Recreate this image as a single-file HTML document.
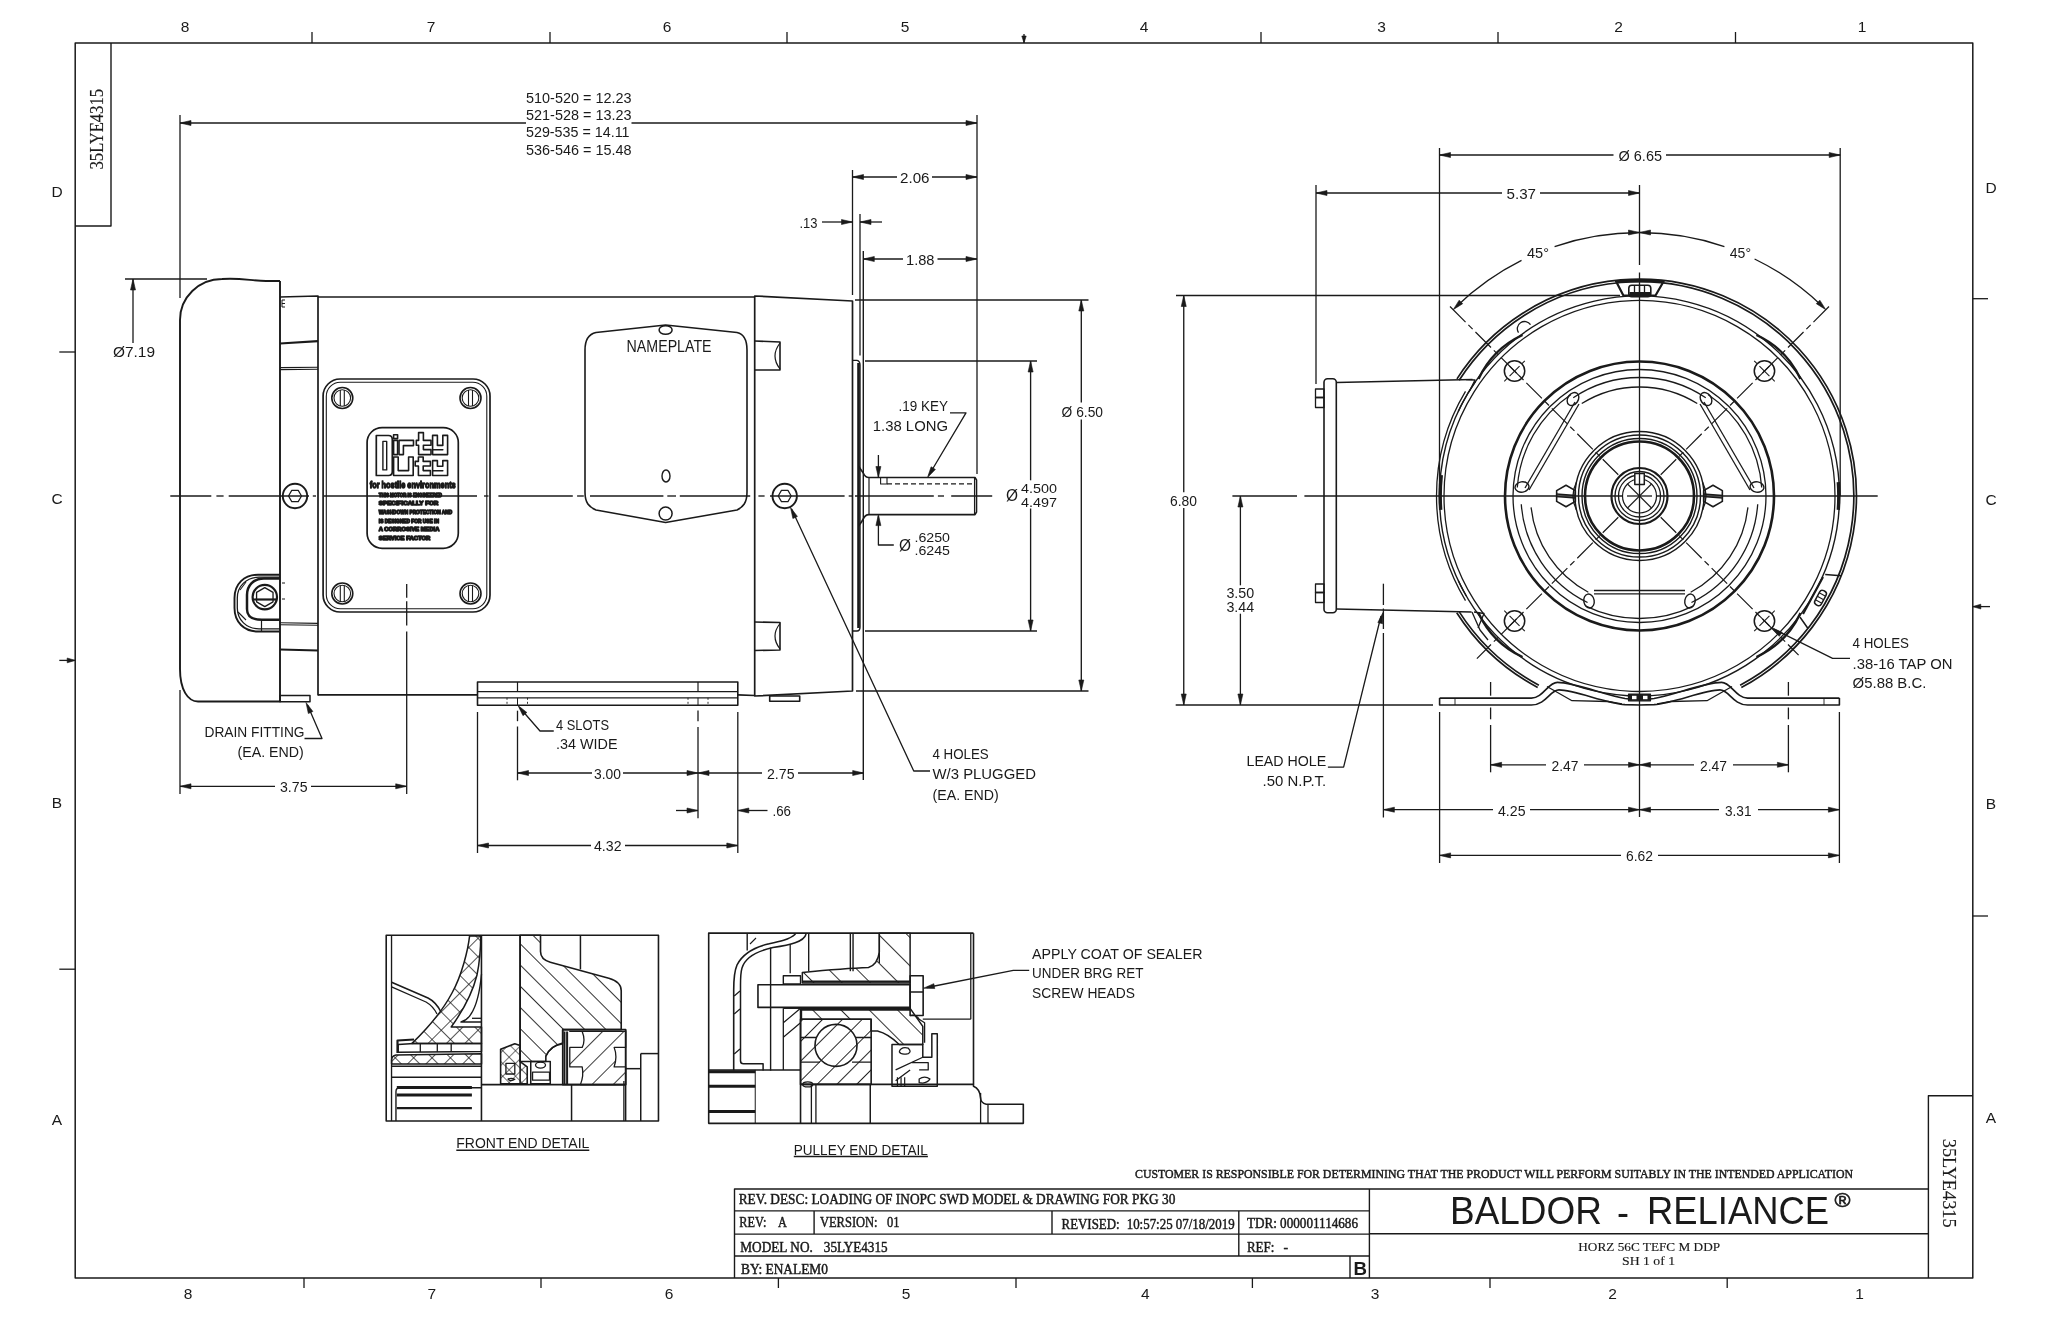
<!DOCTYPE html>
<html><head><meta charset="utf-8"><style>
html,body{margin:0;padding:0;background:#fff;width:2048px;height:1325px;overflow:hidden}
svg{display:block;filter:grayscale(1)} text{fill:#1a1a1a;stroke:none}
</style></head><body>
<svg width="2048" height="1325" viewBox="0 0 2048 1325">
<defs><pattern id="hb" patternUnits="userSpaceOnUse" width="10.5" height="10.5" patternTransform="rotate(45)"><line x1="0" y1="0" x2="0" y2="10.5" stroke="#1a1a1a" stroke-width="1.4"/></pattern><pattern id="hf" patternUnits="userSpaceOnUse" width="10.5" height="10.5" patternTransform="rotate(-45)"><line x1="0" y1="0" x2="0" y2="10.5" stroke="#1a1a1a" stroke-width="1.4"/></pattern><pattern id="hx" patternUnits="userSpaceOnUse" width="9" height="9" patternTransform="rotate(45)"><line x1="0" y1="0" x2="0" y2="9" stroke="#1a1a1a" stroke-width="1.2"/><line x1="0" y1="0" x2="9" y2="0" stroke="#1a1a1a" stroke-width="1.2"/></pattern><pattern id="bs" patternUnits="userSpaceOnUse" width="15" height="15" patternTransform="rotate(-45)"><line x1="0" y1="-1" x2="0" y2="16" stroke="#1a1a1a" stroke-width="1.8"/></pattern><pattern id="fs" patternUnits="userSpaceOnUse" width="15" height="15" patternTransform="rotate(45)"><line x1="0" y1="-1" x2="0" y2="16" stroke="#1a1a1a" stroke-width="1.7"/></pattern><pattern id="bw" patternUnits="userSpaceOnUse" width="20" height="20" patternTransform="rotate(-45)"><line x1="0" y1="-1" x2="0" y2="21" stroke="#1a1a1a" stroke-width="1.8"/></pattern><pattern id="fw" patternUnits="userSpaceOnUse" width="14" height="14" patternTransform="rotate(45)"><line x1="0" y1="-1" x2="0" y2="15" stroke="#1a1a1a" stroke-width="1.9"/></pattern><pattern id="hx2" patternUnits="userSpaceOnUse" width="13" height="13" patternTransform="rotate(45)"><line x1="0" y1="0" x2="0" y2="13" stroke="#1a1a1a" stroke-width="1.5"/><line x1="0" y1="0" x2="13" y2="0" stroke="#1a1a1a" stroke-width="1.5"/></pattern></defs>
<rect width="2048" height="1325" fill="#fff"/>
<g fill="none" stroke="#1a1a1a" stroke-linejoin="round" style="opacity:0.995">
<path d="M75.2,43 L1972.8,43 L1972.8,1278 L75.2,1278 Z" stroke-width="1.5"/>
<path d="M75.2,226 L111,226 L111,43" stroke-width="1.4"/>
<text transform="translate(103.2,129.2) rotate(-90)" x="0" y="0" font-family="Liberation Serif" font-size="19" text-anchor="middle" textLength="80.5" lengthAdjust="spacingAndGlyphs" style="stroke:#1a1a1a;stroke-width:0.15">35LYE4315</text>
<path d="M1972.8,1095.7 L1928.4,1095.7 L1928.4,1278" stroke-width="1.4"/>
<text transform="translate(1943.4,1183.2) rotate(90)" x="0" y="0" font-family="Liberation Serif" font-size="19" text-anchor="middle" textLength="89" lengthAdjust="spacingAndGlyphs" style="stroke:#1a1a1a;stroke-width:0.15">35LYE4315</text>
<text x="185" y="31.93" font-family="Liberation Sans" font-size="15.5" text-anchor="middle">8</text>
<text x="431" y="31.93" font-family="Liberation Sans" font-size="15.5" text-anchor="middle">7</text>
<text x="667" y="31.93" font-family="Liberation Sans" font-size="15.5" text-anchor="middle">6</text>
<text x="905" y="31.93" font-family="Liberation Sans" font-size="15.5" text-anchor="middle">5</text>
<text x="1144" y="31.93" font-family="Liberation Sans" font-size="15.5" text-anchor="middle">4</text>
<text x="1381.5" y="31.93" font-family="Liberation Sans" font-size="15.5" text-anchor="middle">3</text>
<text x="1618.5" y="31.93" font-family="Liberation Sans" font-size="15.5" text-anchor="middle">2</text>
<text x="1862" y="31.93" font-family="Liberation Sans" font-size="15.5" text-anchor="middle">1</text>
<text x="188" y="1298.83" font-family="Liberation Sans" font-size="15.5" text-anchor="middle">8</text>
<text x="431.7" y="1298.83" font-family="Liberation Sans" font-size="15.5" text-anchor="middle">7</text>
<text x="669" y="1298.83" font-family="Liberation Sans" font-size="15.5" text-anchor="middle">6</text>
<text x="906" y="1298.83" font-family="Liberation Sans" font-size="15.5" text-anchor="middle">5</text>
<text x="1145.4" y="1298.83" font-family="Liberation Sans" font-size="15.5" text-anchor="middle">4</text>
<text x="1375" y="1298.83" font-family="Liberation Sans" font-size="15.5" text-anchor="middle">3</text>
<text x="1612.6" y="1298.83" font-family="Liberation Sans" font-size="15.5" text-anchor="middle">2</text>
<text x="1859.5" y="1298.83" font-family="Liberation Sans" font-size="15.5" text-anchor="middle">1</text>
<text x="57" y="197.33" font-family="Liberation Sans" font-size="15.5" text-anchor="middle">D</text>
<text x="57" y="504.33" font-family="Liberation Sans" font-size="15.5" text-anchor="middle">C</text>
<text x="57" y="807.73" font-family="Liberation Sans" font-size="15.5" text-anchor="middle">B</text>
<text x="57" y="1124.63" font-family="Liberation Sans" font-size="15.5" text-anchor="middle">A</text>
<text x="1991" y="193.03" font-family="Liberation Sans" font-size="15.5" text-anchor="middle">D</text>
<text x="1991" y="504.73" font-family="Liberation Sans" font-size="15.5" text-anchor="middle">C</text>
<text x="1991" y="808.93" font-family="Liberation Sans" font-size="15.5" text-anchor="middle">B</text>
<text x="1991" y="1122.83" font-family="Liberation Sans" font-size="15.5" text-anchor="middle">A</text>
<line x1="312" y1="32" x2="312" y2="43" stroke-width="1.3" stroke-linecap="butt"/>
<line x1="550" y1="32" x2="550" y2="43" stroke-width="1.3" stroke-linecap="butt"/>
<line x1="787" y1="32" x2="787" y2="43" stroke-width="1.3" stroke-linecap="butt"/>
<line x1="1261" y1="32" x2="1261" y2="43" stroke-width="1.3" stroke-linecap="butt"/>
<line x1="1498" y1="32" x2="1498" y2="43" stroke-width="1.3" stroke-linecap="butt"/>
<line x1="1735.5" y1="32" x2="1735.5" y2="43" stroke-width="1.3" stroke-linecap="butt"/>
<line x1="1024" y1="34" x2="1024" y2="43" stroke-width="1.3" stroke-linecap="butt"/>
<path d="M1024,43 L1021.8,36 L1026.2,36 Z" fill="#1a1a1a" stroke-width="0.6"/>
<line x1="304" y1="1278" x2="304" y2="1288" stroke-width="1.3" stroke-linecap="butt"/>
<line x1="541" y1="1278" x2="541" y2="1288" stroke-width="1.3" stroke-linecap="butt"/>
<line x1="778.4" y1="1278" x2="778.4" y2="1288" stroke-width="1.3" stroke-linecap="butt"/>
<line x1="1016" y1="1278" x2="1016" y2="1288" stroke-width="1.3" stroke-linecap="butt"/>
<line x1="1252.4" y1="1278" x2="1252.4" y2="1288" stroke-width="1.3" stroke-linecap="butt"/>
<line x1="1490" y1="1278" x2="1490" y2="1288" stroke-width="1.3" stroke-linecap="butt"/>
<line x1="1727.2" y1="1278" x2="1727.2" y2="1288" stroke-width="1.3" stroke-linecap="butt"/>
<line x1="59.3" y1="352" x2="75.2" y2="352" stroke-width="1.3" stroke-linecap="butt"/>
<line x1="59.3" y1="969.2" x2="75.2" y2="969.2" stroke-width="1.3" stroke-linecap="butt"/>
<line x1="59.3" y1="660.4" x2="75.2" y2="660.4" stroke-width="1.3" stroke-linecap="butt"/>
<path d="M75.2,660.4 L67.2,662.8 L67.2,658 Z" fill="#1a1a1a" stroke-width="0.6"/>
<line x1="1972.8" y1="298.7" x2="1988" y2="298.7" stroke-width="1.3" stroke-linecap="butt"/>
<line x1="1972.8" y1="916" x2="1988" y2="916" stroke-width="1.3" stroke-linecap="butt"/>
<line x1="1972.8" y1="606.6" x2="1990" y2="606.6" stroke-width="1.3" stroke-linecap="butt"/>
<path d="M1972.8,606.6 L1980.8,604.2 L1980.8,609 Z" fill="#1a1a1a" stroke-width="0.6"/>
<path d="M734.5,1278 L734.5,1189 L1928.4,1189" stroke-width="1.4"/>
<line x1="734.5" y1="1210.9" x2="1369.4" y2="1210.9" stroke-width="1.4" stroke-linecap="butt"/>
<line x1="734.5" y1="1234.1" x2="1369.5" y2="1234.1" stroke-width="1.4" stroke-linecap="butt"/>
<line x1="734.5" y1="1256" x2="1369.4" y2="1256" stroke-width="1.4" stroke-linecap="butt"/>
<line x1="1369.4" y1="1189" x2="1369.4" y2="1278" stroke-width="1.4" stroke-linecap="butt"/>
<line x1="814.1" y1="1210.9" x2="814.1" y2="1234.1" stroke-width="1.4" stroke-linecap="butt"/>
<line x1="1052" y1="1210.9" x2="1052" y2="1234.1" stroke-width="1.4" stroke-linecap="butt"/>
<line x1="1238.8" y1="1210.9" x2="1238.8" y2="1256" stroke-width="1.4" stroke-linecap="butt"/>
<line x1="1350" y1="1256" x2="1350" y2="1278" stroke-width="1.4" stroke-linecap="butt"/>
<line x1="1369.4" y1="1233.8" x2="1928.4" y2="1233.8" stroke-width="1.4" stroke-linecap="butt"/>
<text x="738.7" y="1203.88" font-family="Liberation Serif" font-size="14" textLength="436.7" lengthAdjust="spacingAndGlyphs" style="stroke:#1a1a1a;stroke-width:0.45">REV. DESC: LOADING OF INOPC SWD MODEL &amp; DRAWING FOR PKG 30</text>
<text x="739.3" y="1227.38" font-family="Liberation Serif" font-size="14" textLength="47.7" lengthAdjust="spacingAndGlyphs" style="stroke:#1a1a1a;stroke-width:0.45">REV:    A</text>
<text x="819.9" y="1227.38" font-family="Liberation Serif" font-size="14" textLength="79.6" lengthAdjust="spacingAndGlyphs" style="stroke:#1a1a1a;stroke-width:0.45">VERSION:   01</text>
<text x="1061.6" y="1229.09" font-family="Liberation Serif" font-size="14" textLength="58" lengthAdjust="spacingAndGlyphs" style="stroke:#1a1a1a;stroke-width:0.45">REVISED:</text>
<text x="1126.7" y="1229.09" font-family="Liberation Serif" font-size="14" textLength="108" lengthAdjust="spacingAndGlyphs" style="stroke:#1a1a1a;stroke-width:0.45">10:57:25 07/18/2019</text>
<text x="1246.9" y="1228.38" font-family="Liberation Serif" font-size="14" textLength="111.1" lengthAdjust="spacingAndGlyphs" style="stroke:#1a1a1a;stroke-width:0.45">TDR: 000001114686</text>
<text x="740.3" y="1252.29" font-family="Liberation Serif" font-size="14" textLength="72.5" lengthAdjust="spacingAndGlyphs" style="stroke:#1a1a1a;stroke-width:0.45">MODEL NO.</text>
<text x="823.8" y="1252.29" font-family="Liberation Serif" font-size="14" textLength="63.8" lengthAdjust="spacingAndGlyphs" style="stroke:#1a1a1a;stroke-width:0.45">35LYE4315</text>
<text x="1246.9" y="1251.59" font-family="Liberation Serif" font-size="14" textLength="27.4" lengthAdjust="spacingAndGlyphs" style="stroke:#1a1a1a;stroke-width:0.45">REF:</text>
<text x="1283.6" y="1251.59" font-family="Liberation Serif" font-size="14" style="stroke:#1a1a1a;stroke-width:0.45">-</text>
<text x="741" y="1273.59" font-family="Liberation Serif" font-size="14" textLength="87" lengthAdjust="spacingAndGlyphs" style="stroke:#1a1a1a;stroke-width:0.45">BY: ENALEM0</text>
<text x="1353.5" y="1274.54" font-family="Liberation Sans" font-size="19" font-weight="bold" textLength="13.5" lengthAdjust="spacingAndGlyphs">B</text>
<text x="1135" y="1177.69" font-family="Liberation Serif" font-size="12.5" textLength="718.1" lengthAdjust="spacingAndGlyphs" style="stroke:#1a1a1a;stroke-width:0.45">CUSTOMER IS RESPONSIBLE FOR DETERMINING THAT THE PRODUCT WILL PERFORM SUITABLY IN THE INTENDED APPLICATION</text>
<text x="1450" y="1224.42" font-family="Liberation Sans" font-size="39" textLength="152" lengthAdjust="spacingAndGlyphs">BALDOR</text>
<text x="1617" y="1225.92" font-family="Liberation Sans" font-size="39" textLength="12" lengthAdjust="spacingAndGlyphs">-</text>
<text x="1647" y="1224.42" font-family="Liberation Sans" font-size="39" textLength="182" lengthAdjust="spacingAndGlyphs">RELIANCE</text>
<text x="1834.5" y="1206.88" font-family="Liberation Sans" font-size="20" textLength="16" lengthAdjust="spacingAndGlyphs" style="stroke:#1a1a1a;stroke-width:0.6">®</text>
<text x="1578.3" y="1251.16" font-family="Liberation Serif" font-size="13" textLength="141.8" lengthAdjust="spacingAndGlyphs" style="stroke:#1a1a1a;stroke-width:0.15">HORZ 56C TEFC M DDP</text>
<text x="1622" y="1264.56" font-family="Liberation Serif" font-size="13" textLength="53" lengthAdjust="spacingAndGlyphs" style="stroke:#1a1a1a;stroke-width:0.15">SH 1 of 1</text>
<path d="M280,281 L280,701.5 L198,701.5 C188,701.5 180,690 180,669 L180,320 A42,41 0 0 1 222,279 C240,277.5 252,281 266,281 L280,281" stroke-width="1.9"/>
<path d="M280,297 L318,296 L318,695.5" stroke-width="1.7"/>
<path d="M280,343.5 L318,341.2" stroke-width="2.2"/>
<line x1="280" y1="367.6" x2="318" y2="367.2" stroke-width="1.1" stroke-linecap="butt"/>
<line x1="280" y1="369.6" x2="318" y2="369.3" stroke-width="1.1" stroke-linecap="butt"/>
<line x1="280" y1="622.8" x2="318" y2="623.4" stroke-width="1.1" stroke-linecap="butt"/>
<line x1="280" y1="624.8" x2="318" y2="625.3" stroke-width="1.1" stroke-linecap="butt"/>
<path d="M280,649.5 L318,650.5" stroke-width="2.2"/>
<rect x="280" y="695.5" width="30" height="6.2" stroke-width="1.5"/>
<line x1="282" y1="300" x2="282" y2="307" stroke-width="1" stroke-linecap="butt"/>
<line x1="282" y1="300" x2="285" y2="300" stroke-width="1" stroke-linecap="butt"/>
<line x1="282" y1="303.5" x2="285" y2="303.5" stroke-width="1" stroke-linecap="butt"/>
<line x1="282" y1="307" x2="285" y2="307" stroke-width="1" stroke-linecap="butt"/>
<line x1="282" y1="583" x2="285" y2="583" stroke-width="1" stroke-linecap="butt"/>
<line x1="282" y1="599" x2="285" y2="599" stroke-width="1" stroke-linecap="butt"/>
<line x1="318" y1="297" x2="754.7" y2="297" stroke-width="1.7" stroke-linecap="butt"/>
<line x1="318" y1="694.8" x2="477.5" y2="694.8" stroke-width="1.7" stroke-linecap="butt"/>
<line x1="737.8" y1="694.8" x2="754.7" y2="695.5" stroke-width="1.7" stroke-linecap="butt"/>
<rect x="323.1" y="379" width="166.9" height="233" stroke-width="1.7" rx="17"/>
<rect x="326.3" y="382.2" width="160.5" height="226.6" stroke-width="1.1" rx="14"/>
<circle cx="342.3" cy="398" r="10.5" stroke-width="1.6"/>
<circle cx="342.3" cy="398" r="8.3" stroke-width="1.1"/>
<line x1="340.3" y1="390" x2="340.3" y2="406" stroke-width="1.1" stroke-linecap="butt"/>
<line x1="344.3" y1="390" x2="344.3" y2="406" stroke-width="1.1" stroke-linecap="butt"/>
<circle cx="470.5" cy="398" r="10.5" stroke-width="1.6"/>
<circle cx="470.5" cy="398" r="8.3" stroke-width="1.1"/>
<line x1="468.5" y1="390" x2="468.5" y2="406" stroke-width="1.1" stroke-linecap="butt"/>
<line x1="472.5" y1="390" x2="472.5" y2="406" stroke-width="1.1" stroke-linecap="butt"/>
<circle cx="342.3" cy="593.5" r="10.5" stroke-width="1.6"/>
<circle cx="342.3" cy="593.5" r="8.3" stroke-width="1.1"/>
<line x1="340.3" y1="585.5" x2="340.3" y2="601.5" stroke-width="1.1" stroke-linecap="butt"/>
<line x1="344.3" y1="585.5" x2="344.3" y2="601.5" stroke-width="1.1" stroke-linecap="butt"/>
<circle cx="470.5" cy="593.5" r="10.5" stroke-width="1.6"/>
<circle cx="470.5" cy="593.5" r="8.3" stroke-width="1.1"/>
<line x1="468.5" y1="585.5" x2="468.5" y2="601.5" stroke-width="1.1" stroke-linecap="butt"/>
<line x1="472.5" y1="585.5" x2="472.5" y2="601.5" stroke-width="1.1" stroke-linecap="butt"/>
<rect x="367.1" y="427.6" width="91.2" height="120.7" stroke-width="1.7" rx="15"/>
<path d="M376.3,435.5 L388.5,435.5 Q392.3,435.5 392.3,439.5 L392.3,471.5 Q392.3,475.5 388.5,475.5 L376.3,475.5 Z" stroke-width="1.7"/>
<rect x="382.9" y="441.4" width="3.8" height="28.5" stroke-width="1.4"/>
<path d="M393.6,440.4 H397.6 V454.6 H393.6 Z" stroke-width="1.6" fill="#fff"/>
<path d="M393.6,434.8 H397.6 V438.6 H393.6 Z" stroke-width="1.6" fill="#fff"/>
<path d="M399,454.6 V440.4 H413.5 V445.6 H403.4 V454.6 Z" stroke-width="1.6" fill="#fff"/>
<path d="M416.3,440.4 H418.6 V432.6 H423.4 V440.4 H431 V445.3 H423.4 V449.6 H431 V454.6 H418.6 V445.3 H416.3 Z" stroke-width="1.6" fill="#fff"/>
<path d="M432.6,435.4 H437.4 V445.4 H442.8 V435.4 H447.6 V454.6 H432.6 V449.8 H442.8 V449.7 H432.6 Z" stroke-width="1.6" fill="#fff"/>
<path d="M393.6,457 H398.2 V470.6 H408.6 V457 H413.2 V475.5 H393.6 Z" stroke-width="1.6" fill="#fff"/>
<path d="M415.2,461.4 H418.4 V457 H423.2 V461.4 H430.4 V466 H423.2 V470.6 H430.4 V475.5 H418.4 V466 H415.2 Z" stroke-width="1.6" fill="#fff"/>
<path d="M432.6,460.6 H437.4 V466.2 H442.8 V460.6 H447.6 V475.5 H432.6 V470.8 H442.8 V470.7 H432.6 Z" stroke-width="1.6" fill="#fff"/>
<text x="369.7" y="487.7" font-family="Liberation Sans" font-size="9.6" font-weight="bold" textLength="86" lengthAdjust="spacingAndGlyphs" style="stroke:#1a1a1a;stroke-width:1.3">for hostile environments</text>
<text x="378.8" y="496.76" font-family="Liberation Sans" font-size="5.4" font-weight="bold" textLength="63.2" lengthAdjust="spacingAndGlyphs" style="stroke:#1a1a1a;stroke-width:1.35">THIS MOTOR IS ENGINEERED</text>
<text x="378.8" y="505.36" font-family="Liberation Sans" font-size="5.4" font-weight="bold" textLength="59.6" lengthAdjust="spacingAndGlyphs" style="stroke:#1a1a1a;stroke-width:1.35">SPECIFICALLY FOR</text>
<text x="378.8" y="514.06" font-family="Liberation Sans" font-size="5.4" font-weight="bold" textLength="73.4" lengthAdjust="spacingAndGlyphs" style="stroke:#1a1a1a;stroke-width:1.35">WASHDOWN PROTECTION AND</text>
<text x="378.8" y="522.66" font-family="Liberation Sans" font-size="5.4" font-weight="bold" textLength="60.1" lengthAdjust="spacingAndGlyphs" style="stroke:#1a1a1a;stroke-width:1.35">IS DESIGNED FOR USE IN</text>
<text x="378.8" y="531.36" font-family="Liberation Sans" font-size="5.4" font-weight="bold" textLength="60.6" lengthAdjust="spacingAndGlyphs" style="stroke:#1a1a1a;stroke-width:1.35">A CORROSIVE MEDIA</text>
<text x="378.8" y="539.96" font-family="Liberation Sans" font-size="5.4" font-weight="bold" textLength="51.5" lengthAdjust="spacingAndGlyphs" style="stroke:#1a1a1a;stroke-width:1.35">SERVICE FACTOR</text>
<circle cx="295" cy="496" r="12.2" stroke-width="1.9"/>
<path d="M301.5,496 L298.25,501.63 L291.75,501.63 L288.5,496 L291.75,490.37 L298.25,490.37 Z" stroke-width="1.2"/>
<circle cx="784.7" cy="496" r="12.2" stroke-width="1.9"/>
<path d="M791.2,496 L787.95,501.63 L781.45,501.63 L778.2,496 L781.45,490.37 L787.95,490.37 Z" stroke-width="1.2"/>
<path d="M280,574.7 L258,574.7 C244,574.7 234.5,584 234.5,598 L234.5,608 C234.5,622 244,631.5 258,631.5 L280,631.5" stroke-width="1.9"/>
<path d="M280,577.2 L259,577.2 C246.5,577.2 237.3,586 237.3,598 L237.3,608 C237.3,620 246.5,628.8 259,628.8 L280,628.8" stroke-width="1.3"/>
<path d="M280,578.6 L264,578.6 C253,578.6 247,586 247,595 L247,609 C247,617 252,619.8 262,619.8 L280,619.8" stroke-width="2.5"/>
<circle cx="264.8" cy="597.1" r="12.2" stroke-width="2.2"/>
<path d="M264.8,587.6 L273.03,592.35 L273.03,601.85 L264.8,606.6 L256.57,601.85 L256.57,592.35 Z" stroke-width="1.3"/>
<line x1="254" y1="599.5" x2="276" y2="599.5" stroke-width="2.2" stroke-linecap="butt"/>
<line x1="261.5" y1="619.8" x2="261.5" y2="631.5" stroke-width="1.2" stroke-linecap="butt"/>
<line x1="240" y1="590" x2="246" y2="582" stroke-width="1.1" stroke-linecap="butt"/>
<line x1="238" y1="612" x2="246" y2="620" stroke-width="1.1" stroke-linecap="butt"/>
<path d="M596,332.5 L665.6,325 L737,332.5 C744,334 747,340 747,350 L747,492 C747,503 743,507 737,510 L665.6,522.5 L596,510 C589,507 585,503 585,492 L585,350 C585,340 589,334 596,332.5 Z" stroke-width="1.6"/>
<ellipse cx="665.6" cy="330" rx="6.5" ry="4.3" stroke-width="1.5"/>
<circle cx="665.6" cy="513.6" r="6.5" stroke-width="1.5"/>
<text x="626.6" y="351.68" font-family="Liberation Sans" font-size="16.5" textLength="85" lengthAdjust="spacingAndGlyphs">NAMEPLATE</text>
<ellipse cx="666" cy="476" rx="4" ry="6" stroke-width="1.4"/>
<path d="M754.7,296 L852.5,301 L852.5,691 L754.7,696 Z" stroke-width="1.7"/>
<path d="M754.7,341 L780,342 L780,370 L754.7,370" stroke-width="1.6"/>
<path d="M780,343 Q770,356 780,369" stroke-width="1.2"/>
<path d="M754.7,622 L780,622.5 L780,650 L754.7,650.5" stroke-width="1.6"/>
<path d="M780,623.5 Q770,636 780,649" stroke-width="1.2"/>
<rect x="769.7" y="696" width="30" height="5.2" stroke-width="1.6"/>
<path d="M852.5,360.4 L857,360.4 Q860,361 860,365 L860,627 Q860,631 857,631 L852.5,631" stroke-width="1.4"/>
<rect x="857.2" y="363" width="2.6" height="265" stroke-width="0" fill="#1a1a1a"/>
<line x1="863.3" y1="251" x2="863.3" y2="780" stroke-width="1.4" stroke-linecap="butt"/>
<line x1="860" y1="214" x2="860" y2="355.5" stroke-width="1.3" stroke-linecap="butt"/>
<path d="M858.5,466 Q861,470 863.3,473 Q865,477.5 869,477.5 L975,477.5 L976.5,480 L976.5,512 L975,514.6 L869,514.6 Q865,514.6 863.3,519 Q861,523 858.5,526" stroke-width="1.6"/>
<line x1="869" y1="477.5" x2="869" y2="514.6" stroke-width="1.2" stroke-linecap="butt"/>
<line x1="974.5" y1="478" x2="974.5" y2="514" stroke-width="1.1" stroke-linecap="butt"/>
<path d="M880.6,477.5 L880.6,484 L887,484 L887,477.5" stroke-width="1.1"/>
<line x1="887" y1="483.8" x2="975" y2="483.8" stroke-width="1.2" stroke-dasharray="5 3" stroke-linecap="butt"/>
<line x1="170.3" y1="496" x2="211.3" y2="496" stroke-width="1.35" stroke-linecap="butt"/>
<line x1="216.4" y1="496" x2="223.6" y2="496" stroke-width="1.35" stroke-linecap="butt"/>
<line x1="228.7" y1="496" x2="309" y2="496" stroke-width="1.35" stroke-linecap="butt"/>
<line x1="312.8" y1="496" x2="316" y2="496" stroke-width="1.35" stroke-linecap="butt"/>
<line x1="324" y1="496" x2="477" y2="496" stroke-width="1.35" stroke-linecap="butt"/>
<line x1="484" y1="496" x2="488.5" y2="496" stroke-width="1.35" stroke-linecap="butt"/>
<line x1="498.4" y1="496" x2="572.8" y2="496" stroke-width="1.35" stroke-linecap="butt"/>
<line x1="577.1" y1="496" x2="583.8" y2="496" stroke-width="1.35" stroke-linecap="butt"/>
<line x1="590" y1="496" x2="663.4" y2="496" stroke-width="1.35" stroke-linecap="butt"/>
<line x1="667.3" y1="496" x2="676" y2="496" stroke-width="1.35" stroke-linecap="butt"/>
<line x1="679.8" y1="496" x2="750.2" y2="496" stroke-width="1.35" stroke-linecap="butt"/>
<line x1="758.4" y1="496" x2="764.6" y2="496" stroke-width="1.35" stroke-linecap="butt"/>
<line x1="770" y1="496" x2="844.6" y2="496" stroke-width="1.35" stroke-linecap="butt"/>
<line x1="848.7" y1="496" x2="852.8" y2="496" stroke-width="1.35" stroke-linecap="butt"/>
<line x1="855" y1="496" x2="933.8" y2="496" stroke-width="1.35" stroke-linecap="butt"/>
<line x1="937.9" y1="496" x2="944" y2="496" stroke-width="1.35" stroke-linecap="butt"/>
<line x1="951.2" y1="496" x2="992.2" y2="496" stroke-width="1.35" stroke-linecap="butt"/>
<rect x="477.5" y="682" width="260.3" height="23.3" stroke-width="1.6"/>
<line x1="477.5" y1="691.6" x2="737.8" y2="691.6" stroke-width="1.3" stroke-linecap="butt"/>
<line x1="477.5" y1="697.8" x2="737.8" y2="697.8" stroke-width="1.3" stroke-linecap="butt"/>
<line x1="507" y1="697.8" x2="507" y2="705.3" stroke-width="0.9" stroke-dasharray="2 2" stroke-linecap="butt"/>
<line x1="527.5" y1="697.8" x2="527.5" y2="705.3" stroke-width="0.9" stroke-dasharray="2 2" stroke-linecap="butt"/>
<line x1="688" y1="697.8" x2="688" y2="705.3" stroke-width="0.9" stroke-dasharray="2 2" stroke-linecap="butt"/>
<line x1="708" y1="697.8" x2="708" y2="705.3" stroke-width="0.9" stroke-dasharray="2 2" stroke-linecap="butt"/>
<line x1="517.5" y1="682" x2="517.5" y2="692" stroke-width="1.2" stroke-linecap="butt"/>
<line x1="698" y1="682" x2="698" y2="692" stroke-width="1.2" stroke-linecap="butt"/>
<line x1="517.5" y1="697.8" x2="517.5" y2="705" stroke-width="1.0" stroke-linecap="butt"/>
<line x1="698" y1="697.8" x2="698" y2="705" stroke-width="1.0" stroke-linecap="butt"/>
<line x1="180" y1="115" x2="180" y2="298" stroke-width="1.3" stroke-linecap="butt"/>
<line x1="977" y1="115" x2="977" y2="474" stroke-width="1.3" stroke-linecap="butt"/>
<line x1="180" y1="123" x2="526" y2="123" stroke-width="1.35" stroke-linecap="butt"/>
<line x1="631.5" y1="123" x2="977" y2="123" stroke-width="1.35" stroke-linecap="butt"/>
<path d="M180,123 L191,120.5 L191,125.5 Z" fill="#1a1a1a" stroke-width="0.6"/>
<path d="M977,123 L966,125.5 L966,120.5 Z" fill="#1a1a1a" stroke-width="0.6"/>
<text x="526" y="103.26" font-family="Liberation Sans" font-size="15.3" textLength="105.5" lengthAdjust="spacingAndGlyphs">510-520 = 12.23</text>
<text x="526" y="120.26" font-family="Liberation Sans" font-size="15.3" textLength="105.5" lengthAdjust="spacingAndGlyphs">521-528 = 13.23</text>
<text x="526" y="137.26" font-family="Liberation Sans" font-size="15.3" textLength="103.5" lengthAdjust="spacingAndGlyphs">529-535 = 14.11</text>
<text x="526" y="154.76" font-family="Liberation Sans" font-size="15.3" textLength="105.5" lengthAdjust="spacingAndGlyphs">536-546 = 15.48</text>
<line x1="852.5" y1="170" x2="852.5" y2="295" stroke-width="1.3" stroke-linecap="butt"/>
<line x1="852.5" y1="177" x2="897" y2="177" stroke-width="1.35" stroke-linecap="butt"/>
<line x1="932" y1="177" x2="977" y2="177" stroke-width="1.35" stroke-linecap="butt"/>
<path d="M852.5,177 L863.5,174.5 L863.5,179.5 Z" fill="#1a1a1a" stroke-width="0.6"/>
<path d="M977,177 L966,179.5 L966,174.5 Z" fill="#1a1a1a" stroke-width="0.6"/>
<text x="900" y="182.83" font-family="Liberation Sans" font-size="15.5" textLength="29.5" lengthAdjust="spacingAndGlyphs">2.06</text>
<line x1="822" y1="222" x2="852.5" y2="222" stroke-width="1.3" stroke-linecap="butt"/>
<path d="M852.5,222 L841.5,224.5 L841.5,219.5 Z" fill="#1a1a1a" stroke-width="0.6"/>
<line x1="882" y1="222" x2="860" y2="222" stroke-width="1.3" stroke-linecap="butt"/>
<path d="M860,222 L871,219.5 L871,224.5 Z" fill="#1a1a1a" stroke-width="0.6"/>
<text x="799.5" y="227.83" font-family="Liberation Sans" font-size="15.5" textLength="18" lengthAdjust="spacingAndGlyphs">.13</text>
<line x1="863.3" y1="259" x2="903" y2="259" stroke-width="1.35" stroke-linecap="butt"/>
<line x1="937.5" y1="259" x2="977" y2="259" stroke-width="1.35" stroke-linecap="butt"/>
<path d="M863.3,259 L874.3,256.5 L874.3,261.5 Z" fill="#1a1a1a" stroke-width="0.6"/>
<path d="M977,259 L966,261.5 L966,256.5 Z" fill="#1a1a1a" stroke-width="0.6"/>
<text x="906" y="264.83" font-family="Liberation Sans" font-size="15.5" textLength="28.5" lengthAdjust="spacingAndGlyphs">1.88</text>
<line x1="125" y1="279" x2="207" y2="279" stroke-width="1.3" stroke-linecap="butt"/>
<line x1="133" y1="279" x2="133" y2="343" stroke-width="1.3" stroke-linecap="butt"/>
<path d="M133,279 L135.5,290 L130.5,290 Z" fill="#1a1a1a" stroke-width="0.6"/>
<text x="113" y="356.83" font-family="Liberation Sans" font-size="15.5" textLength="42" lengthAdjust="spacingAndGlyphs">Ø7.19</text>
<line x1="855" y1="300" x2="1088.5" y2="300" stroke-width="1.3" stroke-linecap="butt"/>
<line x1="856" y1="691" x2="1088.5" y2="691" stroke-width="1.3" stroke-linecap="butt"/>
<line x1="1081.3" y1="300" x2="1081.3" y2="402.5" stroke-width="1.35" stroke-linecap="butt"/>
<line x1="1081.3" y1="419.5" x2="1081.3" y2="691" stroke-width="1.35" stroke-linecap="butt"/>
<path d="M1081.3,300 L1083.8,311 L1078.8,311 Z" fill="#1a1a1a" stroke-width="0.6"/>
<path d="M1081.3,691 L1078.8,680 L1083.8,680 Z" fill="#1a1a1a" stroke-width="0.6"/>
<text x="1061.6" y="416.83" font-family="Liberation Sans" font-size="15.5" textLength="41.4" lengthAdjust="spacingAndGlyphs">Ø 6.50</text>
<line x1="865" y1="361" x2="1037" y2="361" stroke-width="1.3" stroke-linecap="butt"/>
<line x1="865" y1="631" x2="1037" y2="631" stroke-width="1.3" stroke-linecap="butt"/>
<line x1="1030.6" y1="361" x2="1030.6" y2="480.3" stroke-width="1.35" stroke-linecap="butt"/>
<line x1="1030.6" y1="508.5" x2="1030.6" y2="631" stroke-width="1.35" stroke-linecap="butt"/>
<path d="M1030.6,361 L1033.1,372 L1028.1,372 Z" fill="#1a1a1a" stroke-width="0.6"/>
<path d="M1030.6,631 L1028.1,620 L1033.1,620 Z" fill="#1a1a1a" stroke-width="0.6"/>
<text x="1006" y="501" font-family="Liberation Sans" font-size="16" textLength="12" lengthAdjust="spacingAndGlyphs">Ø</text>
<text x="1021" y="492.64" font-family="Liberation Sans" font-size="13.5" textLength="36" lengthAdjust="spacingAndGlyphs">4.500</text>
<text x="1021" y="506.64" font-family="Liberation Sans" font-size="13.5" textLength="36" lengthAdjust="spacingAndGlyphs">4.497</text>
<text x="898.5" y="411.33" font-family="Liberation Sans" font-size="15.5" textLength="49.5" lengthAdjust="spacingAndGlyphs">.19 KEY</text>
<text x="872.8" y="431.33" font-family="Liberation Sans" font-size="15.5" textLength="75.2" lengthAdjust="spacingAndGlyphs">1.38 LONG</text>
<path d="M950,412.8 L966,412.8 L929,475" stroke-width="1.3"/>
<path d="M927.5,477.5 L931.11,466.81 L935.37,469.42 Z" fill="#1a1a1a" stroke-width="0.6"/>
<line x1="878.4" y1="455" x2="878.4" y2="477.5" stroke-width="1.3" stroke-linecap="butt"/>
<path d="M878.4,477.5 L875.9,466.5 L880.9,466.5 Z" fill="#1a1a1a" stroke-width="0.6"/>
<path d="M878.4,516 L878.4,545 L893.8,545" stroke-width="1.3"/>
<path d="M878.4,514.6 L880.9,525.6 L875.9,525.6 Z" fill="#1a1a1a" stroke-width="0.6"/>
<text x="899" y="550.5" font-family="Liberation Sans" font-size="16" textLength="12" lengthAdjust="spacingAndGlyphs">Ø</text>
<text x="914.5" y="542.14" font-family="Liberation Sans" font-size="13.5" textLength="35.5" lengthAdjust="spacingAndGlyphs">.6250</text>
<text x="914.5" y="555.24" font-family="Liberation Sans" font-size="13.5" textLength="35.5" lengthAdjust="spacingAndGlyphs">.6245</text>
<path d="M791.6,509 L913.75,771 L930,771" stroke-width="1.3"/>
<path d="M790.5,507.5 L797.42,516.41 L792.89,518.53 Z" fill="#1a1a1a" stroke-width="0.6"/>
<text x="932.5" y="759.33" font-family="Liberation Sans" font-size="15.5" textLength="56.25" lengthAdjust="spacingAndGlyphs">4 HOLES</text>
<text x="932.5" y="778.83" font-family="Liberation Sans" font-size="15.5" textLength="103.5" lengthAdjust="spacingAndGlyphs">W/3 PLUGGED</text>
<text x="932.5" y="799.83" font-family="Liberation Sans" font-size="15.5" textLength="66.25" lengthAdjust="spacingAndGlyphs">(EA. END)</text>
<line x1="180" y1="690" x2="180" y2="794" stroke-width="1.3" stroke-linecap="butt"/>
<line x1="406.7" y1="583.9" x2="406.7" y2="597.7" stroke-width="1.3" stroke-linecap="butt"/>
<line x1="406.7" y1="601.2" x2="406.7" y2="625.5" stroke-width="1.3" stroke-linecap="butt"/>
<line x1="406.7" y1="631.6" x2="406.7" y2="794" stroke-width="1.3" stroke-linecap="butt"/>
<line x1="180" y1="786.3" x2="275" y2="786.3" stroke-width="1.35" stroke-linecap="butt"/>
<line x1="311" y1="786.3" x2="406.7" y2="786.3" stroke-width="1.35" stroke-linecap="butt"/>
<path d="M180,786.3 L191,783.8 L191,788.8 Z" fill="#1a1a1a" stroke-width="0.6"/>
<path d="M406.7,786.3 L395.7,788.8 L395.7,783.8 Z" fill="#1a1a1a" stroke-width="0.6"/>
<text x="280" y="791.83" font-family="Liberation Sans" font-size="15.5" textLength="27.5" lengthAdjust="spacingAndGlyphs">3.75</text>
<text x="204.5" y="737.33" font-family="Liberation Sans" font-size="15.5" textLength="100" lengthAdjust="spacingAndGlyphs">DRAIN FITTING</text>
<text x="237.5" y="757.33" font-family="Liberation Sans" font-size="15.5" textLength="66.25" lengthAdjust="spacingAndGlyphs">(EA. END)</text>
<path d="M304.5,738.5 L322,738.5 L307.5,705" stroke-width="1.3"/>
<path d="M306,702.5 L312.88,711.44 L308.34,713.54 Z" fill="#1a1a1a" stroke-width="0.6"/>
<path d="M553.75,731 L540,731 L520,708" stroke-width="1.3"/>
<path d="M518,705.5 L526.86,712.49 L522.97,715.63 Z" fill="#1a1a1a" stroke-width="0.6"/>
<text x="556" y="729.83" font-family="Liberation Sans" font-size="15.5" textLength="53" lengthAdjust="spacingAndGlyphs">4 SLOTS</text>
<text x="556" y="749.33" font-family="Liberation Sans" font-size="15.5" textLength="61.5" lengthAdjust="spacingAndGlyphs">.34 WIDE</text>
<line x1="477.5" y1="712" x2="477.5" y2="853" stroke-width="1.3" stroke-linecap="butt"/>
<line x1="737.8" y1="712" x2="737.8" y2="853" stroke-width="1.3" stroke-linecap="butt"/>
<line x1="517.5" y1="710.7" x2="517.5" y2="721.2" stroke-width="1.3" stroke-linecap="butt"/>
<line x1="517.5" y1="726.5" x2="517.5" y2="780.3" stroke-width="1.3" stroke-linecap="butt"/>
<line x1="698" y1="710.5" x2="698" y2="721.2" stroke-width="1.3" stroke-linecap="butt"/>
<line x1="698" y1="727" x2="698" y2="818.3" stroke-width="1.3" stroke-linecap="butt"/>
<line x1="517.5" y1="773" x2="592" y2="773" stroke-width="1.35" stroke-linecap="butt"/>
<line x1="623" y1="773" x2="698" y2="773" stroke-width="1.35" stroke-linecap="butt"/>
<path d="M517.5,773 L528.5,770.5 L528.5,775.5 Z" fill="#1a1a1a" stroke-width="0.6"/>
<path d="M698,773 L687,775.5 L687,770.5 Z" fill="#1a1a1a" stroke-width="0.6"/>
<text x="594" y="778.83" font-family="Liberation Sans" font-size="15.5" textLength="27" lengthAdjust="spacingAndGlyphs">3.00</text>
<line x1="698" y1="773" x2="762" y2="773" stroke-width="1.3" stroke-linecap="butt"/>
<line x1="798" y1="773" x2="863.7" y2="773" stroke-width="1.3" stroke-linecap="butt"/>
<path d="M698,773 L709,770.5 L709,775.5 Z" fill="#1a1a1a" stroke-width="0.6"/>
<path d="M863.7,773 L852.7,775.5 L852.7,770.5 Z" fill="#1a1a1a" stroke-width="0.6"/>
<text x="767" y="778.83" font-family="Liberation Sans" font-size="15.5" textLength="27.5" lengthAdjust="spacingAndGlyphs">2.75</text>
<line x1="676" y1="810.5" x2="698" y2="810.5" stroke-width="1.3" stroke-linecap="butt"/>
<path d="M698,810.5 L687,813 L687,808 Z" fill="#1a1a1a" stroke-width="0.6"/>
<line x1="767.5" y1="810.5" x2="737.8" y2="810.5" stroke-width="1.3" stroke-linecap="butt"/>
<path d="M737.8,810.5 L748.8,808 L748.8,813 Z" fill="#1a1a1a" stroke-width="0.6"/>
<text x="772.5" y="816.33" font-family="Liberation Sans" font-size="15.5" textLength="18.5" lengthAdjust="spacingAndGlyphs">.66</text>
<line x1="477.5" y1="845.5" x2="591" y2="845.5" stroke-width="1.35" stroke-linecap="butt"/>
<line x1="625" y1="845.5" x2="737.8" y2="845.5" stroke-width="1.35" stroke-linecap="butt"/>
<path d="M477.5,845.5 L488.5,843 L488.5,848 Z" fill="#1a1a1a" stroke-width="0.6"/>
<path d="M737.8,845.5 L726.8,848 L726.8,843 Z" fill="#1a1a1a" stroke-width="0.6"/>
<text x="594" y="851.33" font-family="Liberation Sans" font-size="15.5" textLength="27.5" lengthAdjust="spacingAndGlyphs">4.32</text>
<path d="M1459.15,380.24 A214.3,214.3 0 1 1 1740.11,685.22" stroke-width="1.7"/>
<path d="M1538.89,685.22 A214.3,214.3 0 0 1 1458.93,611.41" stroke-width="1.7"/>
<path d="M1456.97,378.84 A216.9,216.9 0 1 1 1741.33,687.51" stroke-width="1.7"/>
<path d="M1537.67,687.51 A216.9,216.9 0 0 1 1456.74,612.81" stroke-width="1.7"/>
<path d="M1838.31,482.1 A199.3,199.3 0 0 1 1838.31,509.9" stroke-width="3.4"/>
<path d="M1440.69,509.9 A199.3,199.3 0 0 1 1441.29,475.17" stroke-width="3.4"/>
<path d="M1458.24,411.48 A200,200 0 1 1 1458.24,580.52" stroke-width="1.4"/>
<path d="M1466.29,596 A200,200 0 0 1 1475.67,381.28" stroke-width="1.4"/>
<path d="M1835,496 A195.5,195.5 0 1 1 1835,495.97" stroke-width="1.3"/>
<path d="M1465.5,600.55 A203,203 0 0 1 1465.5,391.45" stroke-width="1.3"/>
<path d="M1478.51,379.03 Q1492.42,348.92 1522.53,335.01" stroke-width="2.4"/>
<path d="M1756.47,335.01 Q1786.58,348.92 1800.49,379.03" stroke-width="2.4"/>
<path d="M1800.49,612.97 Q1786.58,643.08 1756.47,656.99" stroke-width="2.4"/>
<path d="M1522.53,656.99 Q1492.42,643.08 1478.51,612.97" stroke-width="2.4"/>
<path d="M1518.52,332.7 A6,6 0 0 1 1530.52,324.7" stroke-width="1.3"/>
<path d="M1616,281.2 L1663.7,281.2 L1655.5,295.5 L1623.4,295.5 Z" stroke-width="2.2"/>
<rect x="1628.8" y="285.3" width="22" height="11.5" stroke-width="1.6" rx="3"/>
<rect x="1629.5" y="292" width="20.5" height="4.5" stroke-width="0" fill="#1a1a1a"/>
<line x1="1634.5" y1="286" x2="1634.5" y2="292" stroke-width="1.3" stroke-linecap="butt"/>
<line x1="1639.5" y1="286" x2="1639.5" y2="292" stroke-width="1.3" stroke-linecap="butt"/>
<line x1="1644.5" y1="286" x2="1644.5" y2="292" stroke-width="1.3" stroke-linecap="butt"/>
<path d="M1825.2,574.5 L1841,575.8 M1799.9,617 L1808,628.5" stroke-width="1.5"/>
<path d="M1823,577 L1803,614" stroke-width="2.2"/>
<rect x="-8" y="-3.6" width="16" height="7.2" rx="3" transform="translate(1820.5,598) rotate(-62)" stroke-width="1.5"/>
<line x1="-4" y1="-3.6" x2="-4" y2="3.6" transform="translate(1820.5,598) rotate(-62)" stroke-width="1.1"/>
<line x1="0" y1="-3.6" x2="0" y2="3.6" transform="translate(1820.5,598) rotate(-62)" stroke-width="1.1"/>
<line x1="4" y1="-3.6" x2="4" y2="3.6" transform="translate(1820.5,598) rotate(-62)" stroke-width="1.1"/>
<circle cx="1514.55" cy="371.05" r="10.2" stroke-width="1.5"/>
<line x1="1509.55" y1="366.05" x2="1519.55" y2="376.05" stroke-width="1.1" stroke-linecap="butt"/>
<line x1="1509.55" y1="376.05" x2="1519.55" y2="366.05" stroke-width="1.1" stroke-linecap="butt"/>
<line x1="1507.13" y1="378.48" x2="1504.3" y2="381.31" stroke-width="1.1" stroke-linecap="butt"/>
<line x1="1521.98" y1="363.63" x2="1524.81" y2="360.8" stroke-width="1.1" stroke-linecap="butt"/>
<circle cx="1764.45" cy="371.05" r="10.2" stroke-width="1.5"/>
<line x1="1759.45" y1="366.05" x2="1769.45" y2="376.05" stroke-width="1.1" stroke-linecap="butt"/>
<line x1="1759.45" y1="376.05" x2="1769.45" y2="366.05" stroke-width="1.1" stroke-linecap="butt"/>
<line x1="1757.02" y1="363.63" x2="1754.19" y2="360.8" stroke-width="1.1" stroke-linecap="butt"/>
<line x1="1771.87" y1="378.48" x2="1774.7" y2="381.31" stroke-width="1.1" stroke-linecap="butt"/>
<circle cx="1764.45" cy="620.95" r="10.2" stroke-width="1.5"/>
<line x1="1759.45" y1="615.95" x2="1769.45" y2="625.95" stroke-width="1.1" stroke-linecap="butt"/>
<line x1="1759.45" y1="625.95" x2="1769.45" y2="615.95" stroke-width="1.1" stroke-linecap="butt"/>
<line x1="1771.87" y1="613.52" x2="1774.7" y2="610.69" stroke-width="1.1" stroke-linecap="butt"/>
<line x1="1757.02" y1="628.37" x2="1754.19" y2="631.2" stroke-width="1.1" stroke-linecap="butt"/>
<circle cx="1514.55" cy="620.95" r="10.2" stroke-width="1.5"/>
<line x1="1509.55" y1="615.95" x2="1519.55" y2="625.95" stroke-width="1.1" stroke-linecap="butt"/>
<line x1="1509.55" y1="625.95" x2="1519.55" y2="615.95" stroke-width="1.1" stroke-linecap="butt"/>
<line x1="1521.98" y1="628.37" x2="1524.81" y2="631.2" stroke-width="1.1" stroke-linecap="butt"/>
<line x1="1507.13" y1="613.52" x2="1504.3" y2="610.69" stroke-width="1.1" stroke-linecap="butt"/>
<line x1="1618.29" y1="474.79" x2="1447.87" y2="304.37" stroke-width="1.2" stroke-dasharray="22 4 6 4" stroke-linecap="butt"/>
<line x1="1660.71" y1="474.79" x2="1831.13" y2="304.37" stroke-width="1.2" stroke-dasharray="22 4 6 4" stroke-linecap="butt"/>
<line x1="1660.71" y1="517.21" x2="1798.6" y2="655.1" stroke-width="1.2" stroke-dasharray="22 4 6 4" stroke-linecap="butt"/>
<line x1="1618.29" y1="517.21" x2="1476.87" y2="658.63" stroke-width="1.2" stroke-dasharray="22 4 6 4" stroke-linecap="butt"/>
<circle cx="1639.5" cy="496" r="134.5" stroke-width="2.6"/>
<circle cx="1639.5" cy="496" r="126.5" stroke-width="1.3"/>
<path d="M1517.3,487.45 A122.5,122.5 0 0 1 1571,394.44" stroke-width="1.3"/>
<path d="M1708,394.44 A122.5,122.5 0 0 1 1761.7,487.45" stroke-width="1.3"/>
<path d="M1693.2,606.1 A122.5,122.5 0 0 1 1585.8,606.1" stroke-width="1.3"/>
<path d="M1573.24,397.76 A118.5,118.5 0 0 1 1705.76,397.76" stroke-width="1.3"/>
<path d="M1581.74,403.56 A109,109 0 0 1 1697.26,403.56" stroke-width="1.3"/>
<path d="M1757.71,504.27 A118.5,118.5 0 0 1 1691.45,602.51" stroke-width="1.3"/>
<path d="M1747.9,507.39 A109,109 0 0 1 1690.67,592.24" stroke-width="1.3"/>
<path d="M1587.55,602.51 A118.5,118.5 0 0 1 1521.29,504.27" stroke-width="1.3"/>
<path d="M1588.33,592.24 A109,109 0 0 1 1531.1,507.39" stroke-width="1.3"/>
<path d="M1575,402 L1525,488" stroke-width="1.3"/>
<path d="M1579,404 L1529,490" stroke-width="1.3"/>
<path d="M1704,402 L1754,488" stroke-width="1.3"/>
<path d="M1700,404 L1750,490" stroke-width="1.3"/>
<line x1="1594" y1="590.5" x2="1685" y2="590.5" stroke-width="1.3" stroke-linecap="butt"/>
<line x1="1594" y1="593.8" x2="1685" y2="593.8" stroke-width="1.3" stroke-linecap="butt"/>
<ellipse cx="1573" cy="399" rx="7" ry="5.2" transform="rotate(-55 1573 399)" stroke-width="1.4"/>
<ellipse cx="1706" cy="399" rx="7" ry="5.2" transform="rotate(55 1706 399)" stroke-width="1.4"/>
<ellipse cx="1522" cy="487" rx="7" ry="5.2" transform="rotate(-10 1522 487)" stroke-width="1.4"/>
<ellipse cx="1757" cy="487" rx="7" ry="5.2" transform="rotate(10 1757 487)" stroke-width="1.4"/>
<ellipse cx="1589" cy="601" rx="7" ry="5.2" transform="rotate(80 1589 601)" stroke-width="1.4"/>
<ellipse cx="1690" cy="601" rx="7" ry="5.2" transform="rotate(-80 1690 601)" stroke-width="1.4"/>
<circle cx="1639.5" cy="496" r="64.5" stroke-width="1.4"/>
<circle cx="1639.5" cy="496" r="61" stroke-width="1.4"/>
<circle cx="1639.5" cy="496" r="57.5" stroke-width="1.4"/>
<circle cx="1639.5" cy="496" r="54.5" stroke-width="2.6"/>
<path d="M1575.35,501.4 L1566,506.8 L1556.65,501.4 L1556.65,490.6 L1566,485.2 L1575.35,490.6 Z" stroke-width="1.6"/>
<line x1="1556" y1="494" x2="1576" y2="495.5" stroke-width="1.3" stroke-linecap="butt"/>
<line x1="1556" y1="496.5" x2="1576" y2="498" stroke-width="1.3" stroke-linecap="butt"/>
<path d="M1576.5,482 Q1569.5,496 1576.5,510" stroke-width="1.3"/>
<path d="M1722.35,501.4 L1713,506.8 L1703.65,501.4 L1703.65,490.6 L1713,485.2 L1722.35,490.6 Z" stroke-width="1.6"/>
<line x1="1703" y1="494" x2="1723" y2="495.5" stroke-width="1.3" stroke-linecap="butt"/>
<line x1="1703" y1="496.5" x2="1723" y2="498" stroke-width="1.3" stroke-linecap="butt"/>
<path d="M1702.5,482 Q1709.5,496 1702.5,510" stroke-width="1.3"/>
<circle cx="1639.5" cy="496" r="28" stroke-width="2.2"/>
<circle cx="1639.5" cy="496" r="24.5" stroke-width="1.3"/>
<circle cx="1639.5" cy="496" r="21" stroke-width="1.3"/>
<circle cx="1639.5" cy="496" r="17" stroke-width="1.2"/>
<rect x="1634.8" y="473.5" width="9.5" height="11" stroke-width="1.5" fill="#fff"/>
<line x1="1627.5" y1="484" x2="1651.5" y2="508" stroke-width="1.1" stroke-linecap="butt"/>
<line x1="1627.5" y1="508" x2="1651.5" y2="484" stroke-width="1.1" stroke-linecap="butt"/>
<rect x="1324" y="378.7" width="12.3" height="234" stroke-width="1.6" rx="3.5"/>
<line x1="1336.3" y1="382.5" x2="1472.5" y2="379.5" stroke-width="1.6" stroke-linecap="butt"/>
<line x1="1336.3" y1="609" x2="1471.6" y2="612" stroke-width="1.6" stroke-linecap="butt"/>
<rect x="1315.5" y="389" width="8.5" height="8.5" stroke-width="1.3"/>
<rect x="1315.5" y="397.5" width="8.5" height="10" stroke-width="1.3"/>
<rect x="1315.5" y="584" width="8.5" height="8.5" stroke-width="1.3"/>
<rect x="1315.5" y="592.5" width="8.5" height="10" stroke-width="1.3"/>
<path d="M1466,379.6 L1475,380 L1469,392" stroke-width="1.3"/>
<path d="M1472,612 L1480,630 L1488,640" stroke-width="1.3"/>
<path d="M1474,612 L1484,613.5 L1478,628" stroke-width="1.3"/>
<path d="M1439.6,698.1 L1531.4,698.1 C1543,698.1 1548,682.4 1557.4,682.4 C1575,682.4 1605,695 1625,698.5 L1629,699" stroke-width="1.6"/>
<path d="M1439.6,698.1 L1439.6,705 L1531.4,705 C1546,705 1550,689.9 1559,689.9 C1575,690 1605,703 1625,704.6 L1639.5,705" stroke-width="1.6"/>
<path d="M1547,686.5 L1572,700.7 L1608,701.5 L1622,703.8" stroke-width="1.3"/>
<line x1="1455" y1="698.1" x2="1455" y2="705" stroke-width="0.9" stroke-linecap="butt"/>
<path d="M1839.4,698.1 L1747.6,698.1 C1736,698.1 1731,682.4 1721.6,682.4 C1704,682.4 1674,695 1654,698.5 L1650,699" stroke-width="1.6"/>
<path d="M1839.4,698.1 L1839.4,705 L1747.6,705 C1733,705 1729,689.9 1720,689.9 C1704,690 1674,703 1654,704.6 L1639.5,705" stroke-width="1.6"/>
<path d="M1732,686.5 L1707,700.7 L1671,701.5 L1657,703.8" stroke-width="1.3"/>
<line x1="1824" y1="698.1" x2="1824" y2="705" stroke-width="0.9" stroke-linecap="butt"/>
<rect x="1628.5" y="694" width="22" height="6.8" stroke-width="1.2" fill="#1a1a1a"/>
<rect x="1632" y="695.8" width="4.5" height="3.4" stroke-width="0" fill="#fff"/>
<rect x="1643" y="695.8" width="4.5" height="3.4" stroke-width="0" fill="#fff"/>
<line x1="1232.4" y1="496" x2="1297" y2="496" stroke-width="1.3" stroke-linecap="butt"/>
<line x1="1304.4" y1="496" x2="1623" y2="496" stroke-width="1.3" stroke-linecap="butt"/>
<line x1="1627" y1="496" x2="1652" y2="496" stroke-width="1.3" stroke-linecap="butt"/>
<line x1="1656" y1="496" x2="1877.7" y2="496" stroke-width="1.3" stroke-linecap="butt"/>
<line x1="1639.5" y1="185" x2="1639.5" y2="265" stroke-width="1.3" stroke-linecap="butt"/>
<line x1="1639.5" y1="272.5" x2="1639.5" y2="817" stroke-width="1.3" stroke-linecap="butt"/>
<line x1="1439.5" y1="148" x2="1439.5" y2="496" stroke-width="1.3" stroke-linecap="butt"/>
<line x1="1840.2" y1="148" x2="1840.2" y2="496" stroke-width="1.3" stroke-linecap="butt"/>
<line x1="1439.5" y1="155" x2="1613.5" y2="155" stroke-width="1.35" stroke-linecap="butt"/>
<line x1="1666" y1="155" x2="1840.2" y2="155" stroke-width="1.35" stroke-linecap="butt"/>
<path d="M1439.5,155 L1450.5,152.5 L1450.5,157.5 Z" fill="#1a1a1a" stroke-width="0.6"/>
<path d="M1840.2,155 L1829.2,157.5 L1829.2,152.5 Z" fill="#1a1a1a" stroke-width="0.6"/>
<text x="1618.5" y="160.83" font-family="Liberation Sans" font-size="15.5" textLength="43.5" lengthAdjust="spacingAndGlyphs">Ø 6.65</text>
<line x1="1316" y1="185" x2="1316" y2="384" stroke-width="1.3" stroke-linecap="butt"/>
<line x1="1316" y1="193" x2="1502" y2="193" stroke-width="1.3" stroke-linecap="butt"/>
<line x1="1540" y1="193" x2="1639.5" y2="193" stroke-width="1.3" stroke-linecap="butt"/>
<path d="M1316,193 L1327,190.5 L1327,195.5 Z" fill="#1a1a1a" stroke-width="0.6"/>
<path d="M1639.5,193 L1628.5,195.5 L1628.5,190.5 Z" fill="#1a1a1a" stroke-width="0.6"/>
<text x="1506.5" y="198.83" font-family="Liberation Sans" font-size="15.5" textLength="29.5" lengthAdjust="spacingAndGlyphs">5.37</text>
<path d="M1639.5,232.5 A263.5,263.5 0 0 1 1724.42,246.56" stroke-width="1.3"/>
<path d="M1754.6,258.97 A263.5,263.5 0 0 1 1822.54,306.45" stroke-width="1.3"/>
<path d="M1456.46,306.45 A263.5,263.5 0 0 1 1521.52,260.39" stroke-width="1.3"/>
<path d="M1554.58,246.56 A263.5,263.5 0 0 1 1639.5,232.5" stroke-width="1.3"/>
<path d="M1639.5,232.5 L1650.5,230 L1650.5,235 Z" fill="#1a1a1a" stroke-width="0.6"/>
<path d="M1639.5,232.5 L1628.5,235 L1628.5,230 Z" fill="#1a1a1a" stroke-width="0.6"/>
<path d="M1825.82,309.68 L1816.28,303.67 L1819.81,300.13 Z" fill="#1a1a1a" stroke-width="0.6"/>
<path d="M1453.18,309.68 L1459.19,300.13 L1462.72,303.67 Z" fill="#1a1a1a" stroke-width="0.6"/>
<text x="1729.75" y="257.66" font-family="Liberation Sans" font-size="15" textLength="21.25" lengthAdjust="spacingAndGlyphs">45°</text>
<text x="1527" y="257.66" font-family="Liberation Sans" font-size="15" textLength="22" lengthAdjust="spacingAndGlyphs">45°</text>
<line x1="1176" y1="295.5" x2="1620" y2="295.5" stroke-width="1.3" stroke-linecap="butt"/>
<line x1="1175.7" y1="705" x2="1433" y2="705" stroke-width="1.3" stroke-linecap="butt"/>
<line x1="1183.75" y1="295.5" x2="1183.75" y2="492.3" stroke-width="1.35" stroke-linecap="butt"/>
<line x1="1183.75" y1="508" x2="1183.75" y2="705" stroke-width="1.35" stroke-linecap="butt"/>
<path d="M1183.75,295.5 L1186.25,306.5 L1181.25,306.5 Z" fill="#1a1a1a" stroke-width="0.6"/>
<path d="M1183.75,705 L1181.25,694 L1186.25,694 Z" fill="#1a1a1a" stroke-width="0.6"/>
<text x="1170" y="506.33" font-family="Liberation Sans" font-size="15.5" textLength="27" lengthAdjust="spacingAndGlyphs">6.80</text>
<line x1="1240.4" y1="496" x2="1240.4" y2="585.3" stroke-width="1.3" stroke-linecap="butt"/>
<line x1="1240.4" y1="613.7" x2="1240.4" y2="705" stroke-width="1.3" stroke-linecap="butt"/>
<path d="M1240.4,705 L1237.9,694 L1242.9,694 Z" fill="#1a1a1a" stroke-width="0.6"/>
<path d="M1240.4,496 L1242.9,507 L1237.9,507 Z" fill="#1a1a1a" stroke-width="0.6"/>
<text x="1226.4" y="597.59" font-family="Liberation Sans" font-size="14.5" textLength="27.8" lengthAdjust="spacingAndGlyphs">3.50</text>
<text x="1226.4" y="611.99" font-family="Liberation Sans" font-size="14.5" textLength="27.8" lengthAdjust="spacingAndGlyphs">3.44</text>
<line x1="1383.4" y1="583.7" x2="1383.4" y2="605" stroke-width="1.3" stroke-linecap="butt"/>
<line x1="1383.4" y1="608.5" x2="1383.4" y2="629" stroke-width="1.3" stroke-linecap="butt"/>
<line x1="1383.4" y1="633" x2="1383.4" y2="817.5" stroke-width="1.3" stroke-linecap="butt"/>
<path d="M1327.9,767.2 L1343.6,767.2 L1381,616" stroke-width="1.3"/>
<path d="M1383,612.5 L1382.68,623.78 L1377.83,622.53 Z" fill="#1a1a1a" stroke-width="0.6"/>
<text x="1246.5" y="766.33" font-family="Liberation Sans" font-size="15.5" textLength="79.7" lengthAdjust="spacingAndGlyphs">LEAD HOLE</text>
<text x="1262.6" y="786.33" font-family="Liberation Sans" font-size="15.5" textLength="63.6" lengthAdjust="spacingAndGlyphs">.50 N.P.T.</text>
<line x1="1439.6" y1="712" x2="1439.6" y2="863" stroke-width="1.3" stroke-linecap="butt"/>
<line x1="1839.4" y1="712" x2="1839.4" y2="863" stroke-width="1.3" stroke-linecap="butt"/>
<line x1="1490.6" y1="682" x2="1490.6" y2="695.7" stroke-width="1.3" stroke-linecap="butt"/>
<line x1="1490.6" y1="707.5" x2="1490.6" y2="719.3" stroke-width="1.3" stroke-linecap="butt"/>
<line x1="1490.6" y1="725" x2="1490.6" y2="772.3" stroke-width="1.3" stroke-linecap="butt"/>
<line x1="1788.4" y1="682" x2="1788.4" y2="695.7" stroke-width="1.3" stroke-linecap="butt"/>
<line x1="1788.4" y1="707.5" x2="1788.4" y2="719.3" stroke-width="1.3" stroke-linecap="butt"/>
<line x1="1788.4" y1="725" x2="1788.4" y2="772.3" stroke-width="1.3" stroke-linecap="butt"/>
<line x1="1490.6" y1="764.8" x2="1546" y2="764.8" stroke-width="1.3" stroke-linecap="butt"/>
<line x1="1584" y1="764.8" x2="1639.5" y2="764.8" stroke-width="1.3" stroke-linecap="butt"/>
<path d="M1490.6,764.8 L1501.6,762.3 L1501.6,767.3 Z" fill="#1a1a1a" stroke-width="0.6"/>
<path d="M1639.5,764.8 L1628.5,767.3 L1628.5,762.3 Z" fill="#1a1a1a" stroke-width="0.6"/>
<text x="1551.5" y="770.63" font-family="Liberation Sans" font-size="15.5" textLength="27" lengthAdjust="spacingAndGlyphs">2.47</text>
<line x1="1639.5" y1="764.8" x2="1694" y2="764.8" stroke-width="1.3" stroke-linecap="butt"/>
<line x1="1733" y1="764.8" x2="1788.4" y2="764.8" stroke-width="1.3" stroke-linecap="butt"/>
<path d="M1639.5,764.8 L1650.5,762.3 L1650.5,767.3 Z" fill="#1a1a1a" stroke-width="0.6"/>
<path d="M1788.4,764.8 L1777.4,767.3 L1777.4,762.3 Z" fill="#1a1a1a" stroke-width="0.6"/>
<text x="1700" y="770.63" font-family="Liberation Sans" font-size="15.5" textLength="27" lengthAdjust="spacingAndGlyphs">2.47</text>
<line x1="1383.4" y1="809.7" x2="1493" y2="809.7" stroke-width="1.3" stroke-linecap="butt"/>
<line x1="1530" y1="809.7" x2="1639.5" y2="809.7" stroke-width="1.3" stroke-linecap="butt"/>
<path d="M1383.4,809.7 L1394.4,807.2 L1394.4,812.2 Z" fill="#1a1a1a" stroke-width="0.6"/>
<path d="M1639.5,809.7 L1628.5,812.2 L1628.5,807.2 Z" fill="#1a1a1a" stroke-width="0.6"/>
<text x="1498" y="815.53" font-family="Liberation Sans" font-size="15.5" textLength="27.5" lengthAdjust="spacingAndGlyphs">4.25</text>
<line x1="1639.5" y1="809.7" x2="1719" y2="809.7" stroke-width="1.3" stroke-linecap="butt"/>
<line x1="1758" y1="809.7" x2="1839.4" y2="809.7" stroke-width="1.3" stroke-linecap="butt"/>
<path d="M1639.5,809.7 L1650.5,807.2 L1650.5,812.2 Z" fill="#1a1a1a" stroke-width="0.6"/>
<path d="M1839.4,809.7 L1828.4,812.2 L1828.4,807.2 Z" fill="#1a1a1a" stroke-width="0.6"/>
<text x="1725" y="815.53" font-family="Liberation Sans" font-size="15.5" textLength="26.5" lengthAdjust="spacingAndGlyphs">3.31</text>
<line x1="1439.6" y1="855.4" x2="1621" y2="855.4" stroke-width="1.35" stroke-linecap="butt"/>
<line x1="1658" y1="855.4" x2="1839.4" y2="855.4" stroke-width="1.35" stroke-linecap="butt"/>
<path d="M1439.6,855.4 L1450.6,852.9 L1450.6,857.9 Z" fill="#1a1a1a" stroke-width="0.6"/>
<path d="M1839.4,855.4 L1828.4,857.9 L1828.4,852.9 Z" fill="#1a1a1a" stroke-width="0.6"/>
<text x="1626" y="861.23" font-family="Liberation Sans" font-size="15.5" textLength="27" lengthAdjust="spacingAndGlyphs">6.62</text>
<path d="M1773.45,628.95 L1832.6,658.4 L1850,658.4" stroke-width="1.3"/>
<path d="M1771.95,627.75 L1782.25,632.35 L1779.25,636.35 Z" fill="#1a1a1a" stroke-width="0.6"/>
<text x="1852.6" y="648.03" font-family="Liberation Sans" font-size="15.5" textLength="56.4" lengthAdjust="spacingAndGlyphs">4 HOLES</text>
<text x="1852.6" y="668.93" font-family="Liberation Sans" font-size="15.5" textLength="99.8" lengthAdjust="spacingAndGlyphs">.38-16 TAP ON</text>
<text x="1852.6" y="688.03" font-family="Liberation Sans" font-size="15.5" textLength="73.8" lengthAdjust="spacingAndGlyphs">Ø5.88 B.C.</text>
<path d="M 386.21,935.29 L 658.47,935.29 L 658.47,1120.99 L 386.21,1120.99 Z" stroke-width="1.6"/>
<line x1="391.53" y1="935.29" x2="391.53" y2="1120.99" stroke-width="1.35" stroke-linecap="butt"/>
<path d="M 395.96,1120.99 L 395.96,1091.73 Q 395.96,1087.82 399.87,1087.82 L 481.45,1087.82" stroke-width="1.4"/>
<line x1="396.8" y1="1087.5" x2="471.9" y2="1087.5" stroke-width="3.0" stroke-linecap="butt"/>
<line x1="396.8" y1="1094.9" x2="471.9" y2="1094.9" stroke-width="3.0" stroke-linecap="butt"/>
<line x1="396.8" y1="1108.1" x2="471.9" y2="1108.1" stroke-width="2.4" stroke-linecap="butt"/>
<line x1="391.6" y1="1066.2" x2="481.5" y2="1066.2" stroke-width="1.5" stroke-linecap="butt"/>
<line x1="391.6" y1="1077.2" x2="481.5" y2="1077.2" stroke-width="1.5" stroke-linecap="butt"/>
<path d="M391.6,1064 L481.5,1064 L481.5,1053.7 L396,1055 Q391.6,1056 391.6,1060 Z" stroke-width="1.5" fill="url(#hx2)"/>
<path d="M398.2,1052.2 L481.5,1051.5 L481.5,1043.4 L414,1043.4 L398.2,1044.5 Z" stroke-width="1.5"/>
<line x1="420.3" y1="1043.6" x2="420.3" y2="1052" stroke-width="1.3" stroke-linecap="butt"/>
<line x1="437.3" y1="1043.6" x2="437.3" y2="1052" stroke-width="1.3" stroke-linecap="butt"/>
<line x1="451.2" y1="1043.6" x2="451.2" y2="1052" stroke-width="1.3" stroke-linecap="butt"/>
<path d="M397.5,1053 L397.5,1040.5 L414,1039.5" stroke-width="2.2"/>
<path d="M469.6,935.9 C468,950 462,975 452,993 C443,1010 430,1026 412,1043.4 L481.5,1043.4 L481.5,1027 L451.2,1027 C462,1012 472,995 477,975 C480,960 480.7,948 480.7,935.9 Z" stroke-width="1.5" fill="url(#hx2)"/>
<path d="M481.5,974.2 C480,990 477,1005 471,1014 C468,1019 465,1021 461,1022 L481.5,1022" stroke-width="1.4"/>
<line x1="472" y1="1018.3" x2="481.5" y2="1018.3" stroke-width="1.3" stroke-linecap="butt"/>
<path d="M391.6,982.3 L428,998 Q436,1002 441,1012" stroke-width="1.5"/>
<path d="M391.6,986.8 L426,1002 Q433,1006 437,1014" stroke-width="1.3"/>
<line x1="481.45" y1="935.29" x2="481.45" y2="1120.99" stroke-width="1.6" stroke-linecap="butt"/>
<line x1="520.12" y1="935.29" x2="520.12" y2="1084.63" stroke-width="1.6" stroke-linecap="butt"/>
<line x1="481.45" y1="1084.63" x2="625.65" y2="1084.63" stroke-width="1.6" stroke-linecap="butt"/>
<line x1="571.56" y1="1084.63" x2="571.56" y2="1120.99" stroke-width="1.5" stroke-linecap="butt"/>
<path d="M 520.12,935.29 L 540.52,935.29 L 540.52,951.61 Q 540.52,959.59 550.27,962.25 L 608.8,978.21 Q 621.22,981.76 621.22,990.63 L 621.22,1029.65 L 562.69,1029.65 L 562.69,1042.95 Q 550.27,1045.61 545.84,1056.25 L 545.84,1061.57 L 530.76,1061.57 L 520.12,1061.57 Z" stroke-width="1.6" fill="url(#bs)"/>
<line x1="580.43" y1="935.29" x2="580.43" y2="969.34" stroke-width="1.5" stroke-linecap="butt"/>
<path d="M 562.69,1029.65 L 625.65,1029.65 L 625.65,1084.63 L 562.69,1084.63 Z" stroke-width="1.6"/>
<path d="M 569.78,1031.42 L 625.65,1031.42 L 625.65,1047.38 L 614.13,1047.38 Q 617.67,1056.25 614.13,1066.89 L 625.65,1066.89 L 625.65,1084.63 L 580.43,1084.63 Q 583.97,1075.76 582.2,1066.89 L 569.78,1066.89 L 569.78,1047.38 L 582.2,1047.38 Q 585.75,1040.29 582.2,1031.42 Z" stroke-width="1.3" fill="url(#fs)"/>
<path d="M 564.46,1031.42 L 564.46,1084.63 M 567.12,1031.42 L 567.12,1084.63" stroke-width="2.0"/>
<path d="M 545.84,1056.25 Q 550.27,1045.61 562.69,1043.84" stroke-width="1.4"/>
<path d="M 500.61,1049.16 L 514.8,1043.84 L 520.12,1045.61 L 520.12,1061.57 L 527.22,1066.89 L 527.22,1083.74 L 500.61,1083.74 Z" stroke-width="1.6" fill="url(#hx)"/>
<path d="M 505.93,1063.35 L 514.8,1063.35 L 514.8,1073.99 L 505.93,1073.99 Z M 507.7,1079.31 Q 511.25,1077.54 514.8,1079.31 Q 511.25,1081.97 507.7,1079.31" stroke-width="1.3"/>
<path d="M 530.76,1061.57 L 550.27,1061.57 L 550.27,1083.74 L 530.76,1083.74 Z" stroke-width="1.5"/>
<ellipse cx="540.52" cy="1065.12" rx="5" ry="3" stroke-width="1.3"/>
<rect x="532.54" y="1072.22" width="17" height="8" stroke-width="1.3"/>
<line x1="625.65" y1="1029.65" x2="625.65" y2="1120.99" stroke-width="1.5" stroke-linecap="butt"/>
<line x1="623.88" y1="1081.08" x2="623.88" y2="1120.99" stroke-width="1.3" stroke-linecap="butt"/>
<line x1="625.65" y1="1068.67" x2="640.73" y2="1068.67" stroke-width="1.5" stroke-linecap="butt"/>
<line x1="640.73" y1="1053.59" x2="640.73" y2="1120.99" stroke-width="1.5" stroke-linecap="butt"/>
<line x1="640.73" y1="1053.59" x2="658.47" y2="1053.59" stroke-width="1.5" stroke-linecap="butt"/>
<text x="456.3" y="1148.33" font-family="Liberation Sans" font-size="15.5" textLength="133" lengthAdjust="spacingAndGlyphs">FRONT END DETAIL</text>
<line x1="456.3" y1="1150.3" x2="589.3" y2="1150.3" stroke-width="1.4" stroke-linecap="butt"/>
<path d="M 973.5,933.15 L 708.69,933.15 L 708.69,1123.33 L 1023.31,1123.33 L 1023.31,1104.32 L 986.18,1104.32 Q 980.75,1103.41 980.38,1097.07 Q 979.84,1088.92 973.5,1086.2 L 973.5,933.15" stroke-width="1.6"/>
<line x1="970.78" y1="933.15" x2="970.78" y2="1019.19" stroke-width="1.3" stroke-linecap="butt"/>
<path d="M 970.78,1019.19 L 922.79,1019.19" stroke-width="1.3"/>
<line x1="708.69" y1="1071.71" x2="755.24" y2="1071.71" stroke-width="3.0" stroke-linecap="butt"/>
<line x1="708.69" y1="1086.2" x2="755.24" y2="1086.2" stroke-width="3.0" stroke-linecap="butt"/>
<line x1="708.69" y1="1111.56" x2="755.24" y2="1111.56" stroke-width="3.0" stroke-linecap="butt"/>
<line x1="708.69" y1="1069.9" x2="800.53" y2="1069.9" stroke-width="1.5" stroke-linecap="butt"/>
<line x1="755.24" y1="1069.9" x2="755.24" y2="1123.33" stroke-width="1.0" stroke-linecap="butt"/>
<path d="M795.5,934 C789,940 778,942 768,944 C752,948 742,955 737,965 C734,972 733.7,980 733.7,990 L733.7,1070.6" stroke-width="1.6"/>
<path d="M806.1,934 C804,942 790,945 772.9,947.6 C757,951 745,958 742,968 C740.5,973 740.5,977 740.5,985 L740.5,1060.7 Q740.5,1063.8 743.5,1063.8 L763.1,1063.8 L763.1,1070.6" stroke-width="1.5"/>
<line x1="734.2" y1="996" x2="740" y2="991" stroke-width="1.2" stroke-linecap="butt"/>
<line x1="734.2" y1="1014" x2="740" y2="1009" stroke-width="1.2" stroke-linecap="butt"/>
<line x1="734.2" y1="1054" x2="740" y2="1049" stroke-width="1.2" stroke-linecap="butt"/>
<line x1="747.2" y1="934" x2="747.2" y2="950.6" stroke-width="1.4" stroke-linecap="butt"/>
<line x1="750" y1="944" x2="756" y2="938" stroke-width="1.1" stroke-linecap="butt"/>
<line x1="770.6" y1="947.6" x2="770.6" y2="1070.6" stroke-width="1.4" stroke-linecap="butt"/>
<line x1="783.32" y1="1008.32" x2="783.32" y2="1069.9" stroke-width="1.3" stroke-linecap="butt"/>
<line x1="790.2" y1="944.6" x2="790.2" y2="973.3" stroke-width="1.3" stroke-linecap="butt"/>
<line x1="800.53" y1="1008.32" x2="800.53" y2="1123.33" stroke-width="1.6" stroke-linecap="butt"/>
<line x1="808.68" y1="933.15" x2="808.68" y2="971.19" stroke-width="1.4" stroke-linecap="butt"/>
<line x1="811.39" y1="1084.39" x2="811.39" y2="1123.33" stroke-width="1.3" stroke-linecap="butt"/>
<line x1="815.92" y1="1084.39" x2="815.92" y2="1123.33" stroke-width="1.3" stroke-linecap="butt"/>
<line x1="850.34" y1="933.15" x2="850.34" y2="971.19" stroke-width="1.4" stroke-linecap="butt"/>
<line x1="853.05" y1="933.15" x2="853.05" y2="971.19" stroke-width="1.4" stroke-linecap="butt"/>
<line x1="870.26" y1="1084.39" x2="870.26" y2="1123.33" stroke-width="1.5" stroke-linecap="butt"/>
<line x1="879.32" y1="933.15" x2="879.32" y2="963.04" stroke-width="1.4" stroke-linecap="butt"/>
<line x1="800.53" y1="1084.39" x2="973.5" y2="1084.39" stroke-width="1.6" stroke-linecap="butt"/>
<line x1="987.99" y1="1104.32" x2="987.99" y2="1123.33" stroke-width="1.3" stroke-linecap="butt"/>
<line x1="980.6" y1="1093" x2="980.6" y2="1123" stroke-width="1.3" stroke-linecap="butt"/>
<path d="M 757.96,984.77 L 910.11,984.77 L 910.11,1007.41 L 757.96,1007.41 Z" stroke-width="1.6"/>
<path d="M 910.11,975.72 L 923.15,975.72 L 923.15,1015.56 L 910.11,1015.56 Z M 910.11,992.02 L 923.15,992.02" stroke-width="1.6"/>
<path d="M 783.32,975.72 L 800.53,975.72 L 800.53,983.87 L 783.32,983.87 Z" stroke-width="1.4"/>
<path d="M 802.34,972.46 Q 844.9,968.47 868.45,967.56 Q 877.5,964.85 879.32,952.17 L 879.32,933.15 L 910.11,933.15 L 910.11,982.96 L 802.34,982.96 Z" stroke-width="1.5" fill="url(#bw)"/>
<line x1="802.34" y1="981.51" x2="910.11" y2="981.51" stroke-width="2.0" stroke-linecap="butt"/>
<path d="M 801.43,1008.32 L 910.11,1008.32 L 922.79,1026.43 L 922.79,1044.54 L 899.24,1044.54 Q 888.37,1033.68 877.5,1030.96 L 871.16,1030.96 L 871.16,1019.19 L 801.43,1019.19 Z" stroke-width="1.5" fill="url(#bw)"/>
<line x1="801.43" y1="1009.77" x2="910.11" y2="1009.77" stroke-width="2.0" stroke-linecap="butt"/>
<line x1="783.32" y1="1008.32" x2="800.53" y2="1008.32" stroke-width="1.3" stroke-linecap="butt"/>
<path d="M 783.32,1022.81 L 800.53,1008.32 M 783.32,1037.3 L 800.53,1022.81" stroke-width="1.2"/>
<path d="M 800.53,1019.19 L 871.16,1019.19 L 871.16,1084.39 L 800.53,1084.39 Z" stroke-width="1.6" fill="url(#fw)"/>
<circle cx="836" cy="1045.4" r="21" stroke-width="1.6"/>
<path d="M800.5,1037.5 L816,1037.5 M856,1037.5 L871.3,1037.5 M800.5,1062.1 L820,1062.1 M852,1062.1 L871.3,1062.1" stroke-width="1.4"/>
<ellipse cx="807.77" cy="1084.39" rx="5" ry="2.5" stroke-width="1.3"/>
<path d="M 891.99,1044.54 L 922.79,1044.54 L 922.79,1057.22 L 931.84,1057.22 L 931.84,1033.68 L 937.28,1033.68 L 937.28,1086.2 L 891.99,1086.2 Z" stroke-width="1.5"/>
<path d="M 910.11,1015.56 Q 915.54,1013.75 919.16,1019.19 L 924.6,1022.81 L 924.6,1042.73" stroke-width="1.3"/>
<path d="M 899.24,1051.79 Q 901.05,1046.35 908.3,1048.17 Q 911.92,1051.79 908.3,1053.6 Q 901.05,1055.41 899.24,1051.79" stroke-width="1.3"/>
<path d="M 919.16,1078.96 Q 924.6,1075.34 930.03,1078.96 Q 926.41,1084.39 919.16,1082.58 Z" stroke-width="1.3"/>
<path d="M 895.62,1069.9 L 922.79,1057.22 M 895.62,1080.77 L 910.11,1069.9 M 911.92,1062.66 L 928.22,1062.66 L 928.22,1069.9 L 919.16,1069.9" stroke-width="1.3"/>
<path d="M 897.43,1086.2 L 897.43,1077.15 M 901.05,1086.2 L 901.05,1077.15 M 904.67,1086.2 L 904.67,1077.15" stroke-width="1.2"/>
<text x="793.8" y="1154.93" font-family="Liberation Sans" font-size="15.5" textLength="134.1" lengthAdjust="spacingAndGlyphs">PULLEY END DETAIL</text>
<line x1="793.8" y1="1156.5" x2="927.9" y2="1156.5" stroke-width="1.4" stroke-linecap="butt"/>
<text x="1032.1" y="958.86" font-family="Liberation Sans" font-size="15.3" textLength="170.4" lengthAdjust="spacingAndGlyphs">APPLY COAT OF SEALER</text>
<text x="1032.1" y="978.46" font-family="Liberation Sans" font-size="15.3" textLength="111.3" lengthAdjust="spacingAndGlyphs">UNDER BRG RET</text>
<text x="1032.1" y="998.06" font-family="Liberation Sans" font-size="15.3" textLength="102.9" lengthAdjust="spacingAndGlyphs">SCREW HEADS</text>
<path d="M1029.2,970.4 L1013.3,970.4 L927,987.5" stroke-width="1.3"/>
<path d="M923.5,988.2 L933.82,983.65 L934.77,988.56 Z" fill="#1a1a1a" stroke-width="0.6"/>
</g>
</svg>
</body></html>
